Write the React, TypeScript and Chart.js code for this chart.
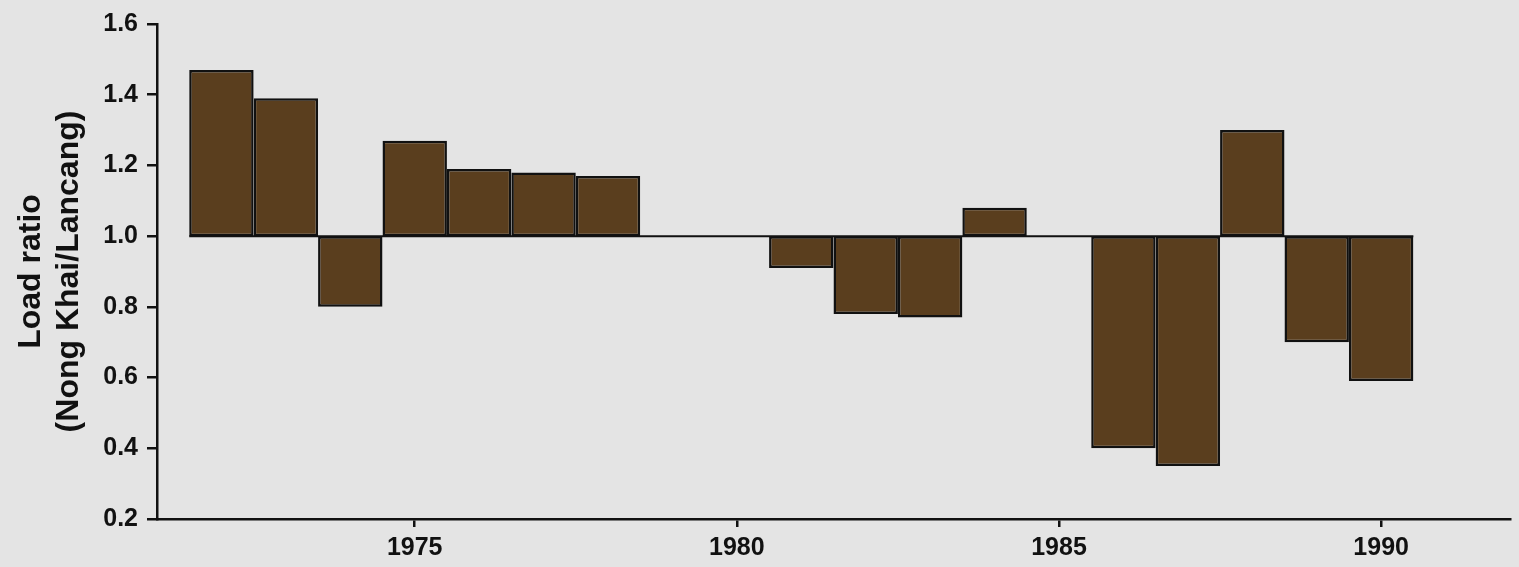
import { useEffect, useRef } from "react";
import { Chart, registerables } from "chart.js";

Chart.register(...registerables);

const YEARS = [1972, 1973, 1974, 1975, 1976, 1977, 1978, 1981, 1982, 1983, 1984, 1986, 1987, 1988, 1989, 1990];
const RATIOS = [1.47, 1.39, 0.8, 1.27, 1.19, 1.18, 1.17, 0.91, 0.78, 0.77, 1.08, 0.4, 0.35, 1.3, 0.7, 0.59];
const BASE_VALUE = 1.0;
const X_TICKS = [1975, 1980, 1985, 1990];
const Y_TICKS = [0.2, 0.4, 0.6, 0.8, 1.0, 1.2, 1.4, 1.6];
const X_MIN = 1971;
const X_MAX = 1992;
const Y_MIN = 0.2;
const Y_MAX = 1.6;
const Y_TITLE = ["Load ratio", "(Nong Khai/Lancang)"];

const BAR_COLOR = "#5a3e1e";
const INK = "#111111";
const FONT = "'Liberation Sans', Arial, sans-serif";

export default function App() {
  const ref = useRef<HTMLCanvasElement | null>(null);

  useEffect(() => {
    if (!ref.current) return;
    const bars = YEARS.map((yr, i) => ({ x: yr, y: [BASE_VALUE, RATIOS[i]] }));
    const baseline = [
      { x: YEARS[0] - 0.5, y: BASE_VALUE },
      { x: YEARS[YEARS.length - 1] + 0.5, y: BASE_VALUE },
    ];
    const chart = new Chart(ref.current, {
      type: "bar",
      data: {
        datasets: [
          {
            type: "line",
            data: baseline as any,
            borderColor: INK,
            borderWidth: 2,
            pointRadius: 0,
            order: 0,
          } as any,
          {
            type: "bar",
            data: bars as any,
            backgroundColor: BAR_COLOR,
            borderColor: INK,
            borderWidth: 2.5,
            borderSkipped: false,
            barPercentage: 1,
            categoryPercentage: 1,
            inflateAmount: 0,
            order: 1,
          } as any,
        ],
      },
      options: {
        animation: false,
        responsive: true,
        maintainAspectRatio: false,
        layout: { padding: { top: 21, right: 9, left: 0, bottom: 0 } },
        plugins: { legend: { display: false }, tooltip: { enabled: false } },
        scales: {
          x: {
            type: "linear",
            min: X_MIN,
            max: X_MAX,
            offset: false,
            afterBuildTicks: (s: any) => {
              s.ticks = X_TICKS.map((v) => ({ value: v }));
            },
            afterFit: (s: any) => {
              s.height = 48;
            },
            grid: {
              offset: false,
              drawOnChartArea: false,
              drawTicks: true,
              tickLength: 8,
              color: INK,
              lineWidth: 2.5,
            },
            border: { display: true, color: INK, width: 2.5 },
            ticks: {
              padding: 6,
              color: INK,
              font: { family: FONT, size: 25, weight: "bold" },
              callback: (v: any) => String(v),
              maxRotation: 0,
              autoSkip: false,
            },
          },
          y: {
            type: "linear",
            min: Y_MIN,
            max: Y_MAX,
            afterBuildTicks: (s: any) => {
              s.ticks = Y_TICKS.map((v) => ({ value: v }));
            },
            afterFit: (s: any) => {
              s.width = 157;
            },
            grid: { drawOnChartArea: false, drawTicks: true, tickLength: 10, color: INK, lineWidth: 2.5 },
            border: { display: true, color: INK, width: 2.5 },
            ticks: {
              padding: 9,
              color: INK,
              font: { family: FONT, size: 25, weight: "bold" },
              callback: (v: any) => Number(v).toFixed(1),
            },
            title: {
              display: true,
              text: Y_TITLE,
              color: INK,
              font: { family: FONT, size: 32, weight: "bold", lineHeight: 1.2 },
              padding: { top: 12, bottom: 0 },
            },
          },
        },
      },
    });
    return () => chart.destroy();
  }, []);

  return (
    <div
      style={{
        position: "fixed",
        left: 0,
        top: 0,
        width: 1519,
        height: 567,
        background: "#e4e4e4",
      }}
    >
      <canvas ref={ref} />
    </div>
  );
}
